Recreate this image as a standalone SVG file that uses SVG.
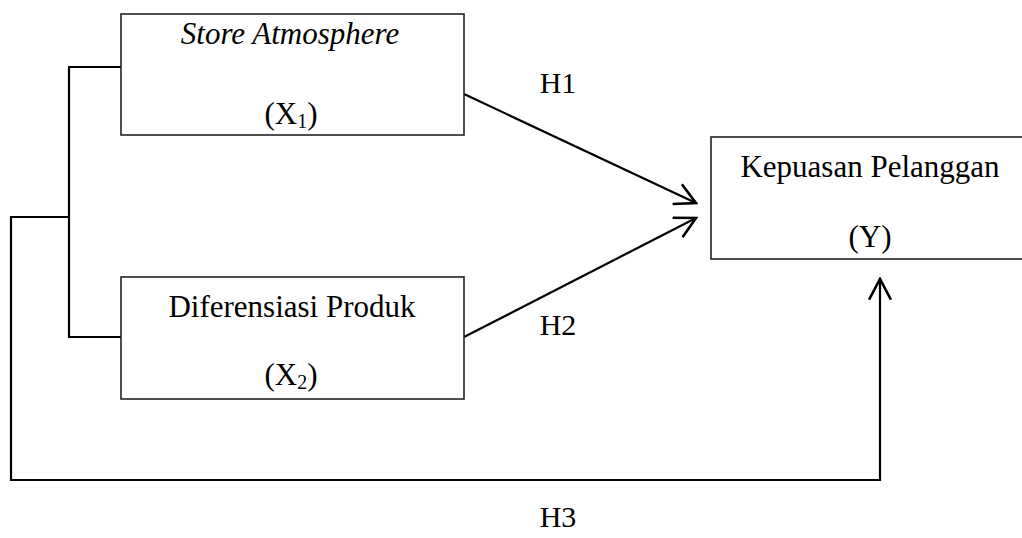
<svg xmlns="http://www.w3.org/2000/svg" width="1022" height="538" viewBox="0 0 1022 538">
  <style>
    .box { fill: #ffffff; stroke: #222222; stroke-width: 1.6; }
    .t { font-family: "Liberation Serif", "Times New Roman", serif; font-size: 31px; fill: #000000; text-anchor: middle; }
    .h { font-size: 30px; }
    .it { font-style: italic; }
    .sub { font-size: 20px; }
    .conn { fill: none; stroke: #000000; stroke-width: 2.2; }
  </style>
  <defs>
    <marker id="arr" markerUnits="userSpaceOnUse" markerWidth="24" markerHeight="24" viewBox="0 0 22 22" refX="20" refY="11" orient="auto">
      <path d="M1,1 L20,11 L1,21" fill="none" stroke="#000000" stroke-width="2.4"/>
    </marker>
  </defs>
  <rect x="0" y="0" width="1022" height="538" fill="#ffffff"/>

  <g id="connectors">
    <path class="conn" d="M121,67 H69 V337 H121"/>
    <path class="conn" d="M69,217 H11 V480 H880 V279" marker-end="url(#arr)"/>
    <path class="conn" d="M464,94 L696,203" marker-end="url(#arr)"/>
    <path class="conn" d="M464,337 L696,218" marker-end="url(#arr)"/>
  </g>

  <g id="node-x1">
    <rect class="box" x="121" y="14" width="343" height="121"/>
    <text class="t it" x="290" y="44">Store Atmosphere</text>
    <text class="t" x="291" y="124">(X<tspan class="sub" dy="4">1</tspan><tspan dy="-4">)</tspan></text>
  </g>

  <g id="node-x2">
    <rect class="box" x="121" y="277" width="343" height="122"/>
    <text class="t" x="292" y="317">Diferensiasi Produk</text>
    <text class="t" x="291" y="385">(X<tspan class="sub" dy="4">2</tspan><tspan dy="-4">)</tspan></text>
  </g>

  <g id="node-y">
    <rect class="box" x="711" y="137" width="320" height="122"/>
    <text class="t" x="870" y="177">Kepuasan Pelanggan</text>
    <text class="t" x="870" y="247">(Y)</text>
  </g>

  <g id="labels">
    <text class="t h" x="558" y="93">H1</text>
    <text class="t h" x="558" y="335">H2</text>
    <text class="t h" x="558" y="527">H3</text>
  </g>
</svg>
